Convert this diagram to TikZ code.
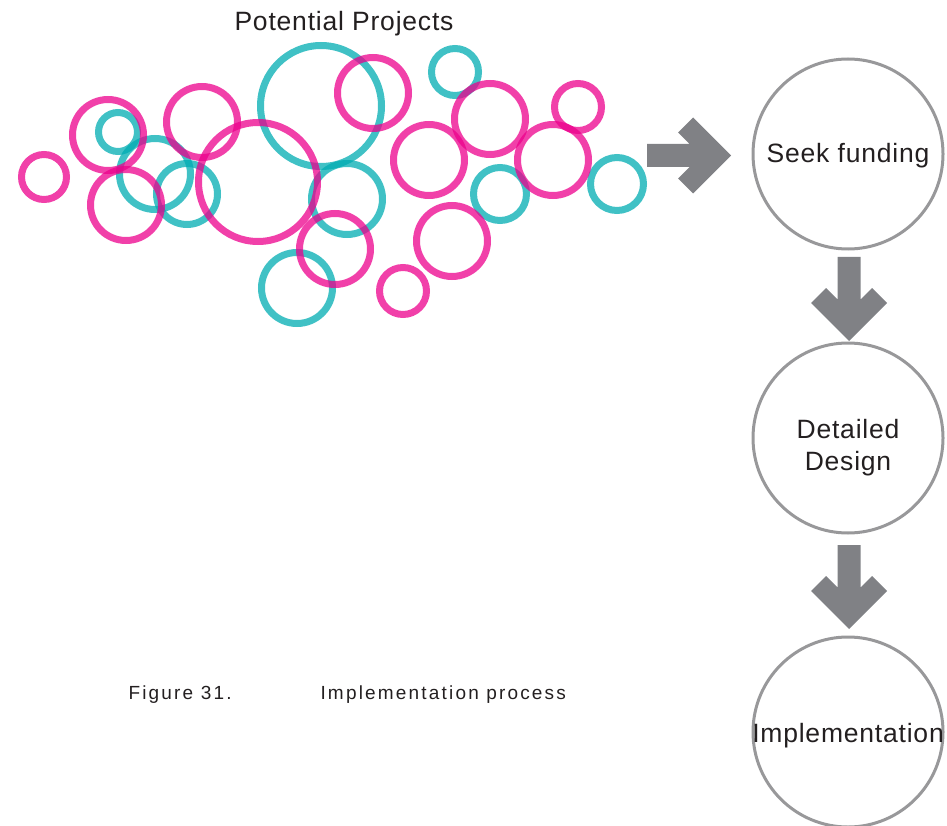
\documentclass[tikz,border=0pt]{standalone}
\usepackage{fontspec}
\setmainfont{Liberation Sans}
\definecolor{ppink}{RGB}{236,0,140}
\definecolor{pteal}{RGB}{0,172,178}
\definecolor{arrowgray}{RGB}{128,129,133}
\definecolor{stagegray}{RGB}{152,152,154}
\definecolor{txtcol}{RGB}{35,31,32}
\begin{document}
\begin{tikzpicture}[x=1pt,y=-1pt]
\useasboundingbox (0,0) rectangle (947,826);
\tikzset{
  ring/.style={line width=7pt, draw opacity=0.75},
  pinkring/.style={ring, draw=ppink},
  tealring/.style={ring, draw=pteal},
  stage/.style={circle, draw=stagegray, line width=3pt, minimum size=190pt, inner sep=0pt},
  bigtxt/.style={text=txtcol, font=\addfontfeature{LetterSpace=3}\fontsize{26.5}{32}\selectfont, align=center},
  captxt/.style={text=txtcol, font=\addfontfeature{LetterSpace=11.5}\fontsize{19}{22}\selectfont, anchor=west},
  pics/blockarrow/.style={code={
    \fill[arrowgray] (0,-11.5) -- (42.5,-11.5) -- (31,-23) -- (46,-38) -- (84,0)
      -- (46,38) -- (31,23) -- (42.5,11.5) -- (0,11.5) -- cycle;}}
}
% cluster of potential projects
\foreach \cx/\cy/\r in {118/132/19.5, 155/174/35.5, 187/194/30.5, 321/106/60.5, 455/72/23.5,
                        617/184/26.5, 500/194/26.5, 347/199/35.5, 297/288/35.5}
  \draw[tealring] (\cx,\cy) circle (\r);
\foreach \cx/\cy/\r in {44/177/22.5, 108/135/35.5, 126/205/35.5, 202/122/35.5, 258/182/59.5,
                        373/93/35.5, 490/119/35.5, 578/107/23.5, 429/160/35.5, 553/160/35.5,
                        335/249/35.5, 403/291/23.5, 452/241/35.5}
  \draw[pinkring] (\cx,\cy) circle (\r);
\node[bigtxt] (title) at (344,24) {Potential Projects};
% stages
\node[stage] (seek) at (848,154) {};
\node[bigtxt] (seektxt) at ([yshift=-2pt]seek.center) {Seek funding};
\node[stage] (design) at (848,438) {};
\node[bigtxt] (designtxt) at ([yshift=-10pt]design.center) {Detailed\\Design};
\node[stage] (impl) at (848,732) {};
\node[bigtxt] (impltxt) at ([yshift=-4pt]impl.center) {Implementation};
% block arrows
\coordinate (a1) at (647,155.5);
\coordinate (a2) at (849,257);
\coordinate (a3) at (849,545);
\pic at (a1) {blockarrow};
\pic[rotate=-90] at (a2) {blockarrow};
\pic[rotate=-90] at (a3) {blockarrow};
% caption
\node[captxt] (fig) at (125,695) {Figure 31.};
\node[captxt] (cap) at (317,695) {Implementation process};
\end{tikzpicture}
\end{document}
